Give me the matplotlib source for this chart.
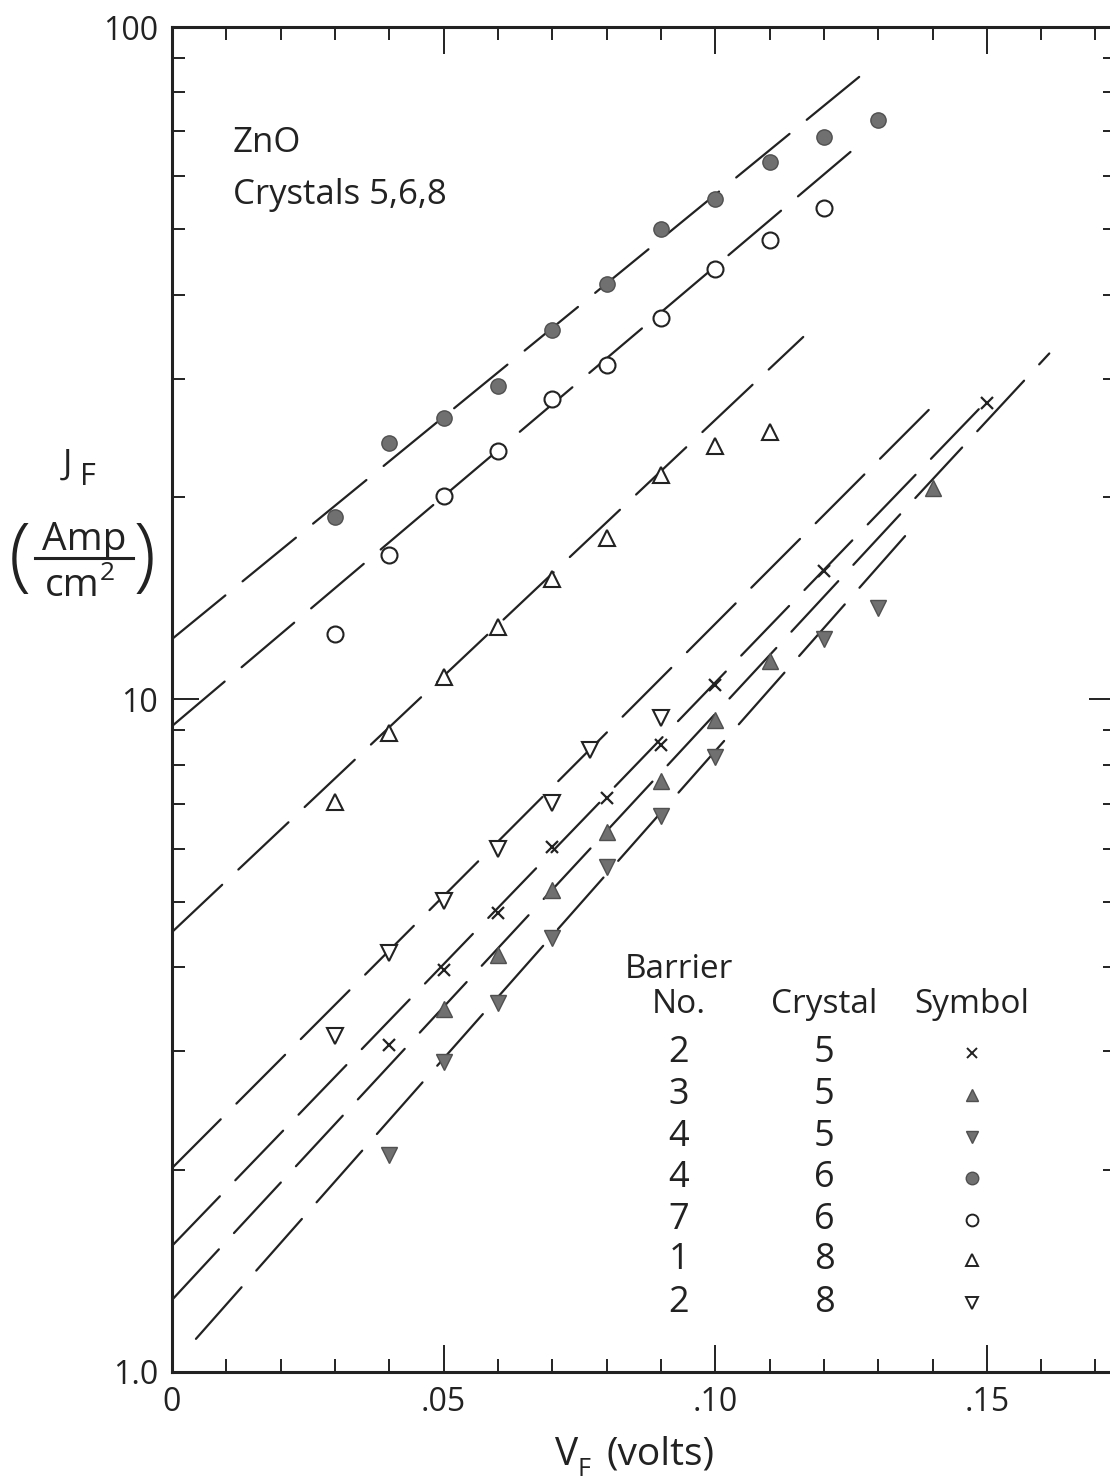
import matplotlib.pyplot as plt
from matplotlib.lines import Line2D
from matplotlib.ticker import FixedLocator, NullFormatter

plt.rcParams['font.family'] = ['Open Sans', 'DejaVu Sans']

# forward voltage V_F (volts) and current density J_F (Amp/cm^2)
v_b2c5 = [0.04, 0.05, 0.06, 0.07, 0.08, 0.09, 0.10, 0.12, 0.15]
j_b2c5 = [3.06, 3.96, 4.81, 6.03, 7.14, 8.56, 10.5, 15.5, 27.6]

v_b3c5 = [0.05, 0.06, 0.07, 0.08, 0.09, 0.10, 0.11, 0.14]
j_b3c5 = [3.47, 4.17, 5.21, 6.35, 7.56, 9.32, 11.4, 20.6]

v_b4c5 = [0.04, 0.05, 0.06, 0.07, 0.08, 0.09, 0.10, 0.12, 0.13]
j_b4c5 = [2.10, 2.89, 3.54, 4.42, 5.64, 6.71, 8.21, 12.3, 13.7]

v_b4c6 = [0.03, 0.04, 0.05, 0.06, 0.07, 0.08, 0.09, 0.10, 0.11, 0.12, 0.13]
j_b4c6 = [18.7, 24.1, 26.2, 29.3, 35.4, 41.5, 50.1, 55.5, 63.0, 68.6, 72.7]

v_b7c6 = [0.03, 0.04, 0.05, 0.06, 0.07, 0.08, 0.09, 0.10, 0.11, 0.12]
j_b7c6 = [12.5, 16.4, 20.1, 23.4, 28.0, 31.4, 36.9, 43.7, 48.2, 53.8]

v_b1c8 = [0.03, 0.04, 0.05, 0.06, 0.07, 0.08, 0.09, 0.10, 0.11]
j_b1c8 = [7.04, 8.92, 10.8, 12.8, 15.1, 17.4, 21.6, 23.8, 25.0]

v_b2c8 = [0.03, 0.04, 0.05, 0.06, 0.07, 0.077, 0.09]
j_b2c8 = [3.16, 4.20, 5.02, 5.99, 7.02, 8.41, 9.39]

# dashed fit lines: start and end of each line
fit_v0 = [0.0, 0.0, 0.0044, 0.0, 0.0, 0.0, 0.0]
fit_j0 = [1.54, 1.28, 1.12, 12.3, 9.13, 4.51, 2.01]
fit_v1 = [0.150, 0.1615, 0.1355, 0.1265, 0.1249, 0.1162, 0.1398]
fit_j1 = [27.8, 32.7, 17.7, 84.3, 65.2, 34.6, 27.2]

barrier_no = ["2", "3", "4", "4", "7", "1", "2"]
crystal_no = ["5", "5", "5", "6", "6", "8", "8"]
markers = ["x", "^", "v", "o", "o", "^", "v"]
filled = [True, True, True, True, False, False, False]

v_data = [v_b2c5, v_b3c5, v_b4c5, v_b4c6, v_b7c6, v_b1c8, v_b2c8]
j_data = [j_b2c5, j_b3c5, j_b4c5, j_b4c6, j_b7c6, j_b1c8, j_b2c8]

x_ticks = [0, 0.05, 0.10, 0.15]
x_ticklabels = ["0", ".05", ".10", ".15"]
y_ticks = [1, 10, 100]
y_ticklabels = ["1.0", "10", "100"]

ink = "#222222"
gray = "#707070"

fig = plt.figure(figsize=(11.1, 14.84), dpi=100)
ax = fig.add_axes([0.155, 0.0755, 0.8505, 0.9063])
ax.set_yscale("log")
ax.set_xlim(0, 0.1738)
ax.set_ylim(1, 100)

for i in range(len(v_data)):
    ax.plot([fit_v0[i], fit_v1[i]], [fit_j0[i], fit_j1[i]], color=ink, lw=1.6,
            dashes=(31, 10), dash_capstyle="round", zorder=2)
    if markers[i] == "x":
        ax.plot(v_data[i], j_data[i], ls="none", marker="x", ms=9, mew=1.6,
                color=ink, zorder=3)
    elif filled[i]:
        ax.plot(v_data[i], j_data[i], ls="none", marker=markers[i], ms=11,
                mfc=gray, mec="#505050", mew=1.0, zorder=3)
    else:
        ax.plot(v_data[i], j_data[i], ls="none", marker=markers[i], ms=11.5,
                mfc="white", mec=ink, mew=1.5, zorder=3)

# axes frame and ticks
for s in ax.spines.values():
    s.set_linewidth(2.2)
    s.set_color(ink)
ax.xaxis.set_major_locator(FixedLocator(x_ticks))
ax.xaxis.set_minor_locator(FixedLocator([k / 100 for k in range(18)]))
ax.set_xticklabels(x_ticklabels)
ax.yaxis.set_major_locator(FixedLocator(y_ticks))
ax.yaxis.set_minor_locator(FixedLocator([m * 10 ** d for d in range(2) for m in range(2, 10)]))
ax.set_yticklabels(y_ticklabels)
ax.yaxis.set_minor_formatter(NullFormatter())
ax.tick_params(which="both", direction="in", top=True, right=True, color=ink,
               width=1.4, labelsize=23, labelcolor=ink)
ax.tick_params(which="major", length=19.5, pad=10)
ax.tick_params(which="minor", length=9.4)

# annotation text
ax.text(0.0646, 0.9138, "ZnO", transform=ax.transAxes, fontsize=25,
        color=ink, va="center", ha="left")
ax.text(0.0646, 0.8751, "Crystals 5,6,8", transform=ax.transAxes, fontsize=25,
        color=ink, va="center", ha="left")

# key table
col_x = [0.537, 0.691, 0.847]
row_y = [0.2372, 0.2059, 0.1747, 0.1442, 0.1130, 0.0833, 0.0513]
ax.text(col_x[0], 0.2989, "Barrier", transform=ax.transAxes, fontsize=24,
        color=ink, ha="center", va="center")
ax.text(col_x[0], 0.2729, "No.", transform=ax.transAxes, fontsize=24,
        color=ink, ha="center", va="center")
ax.text(col_x[1], 0.2729, "Crystal", transform=ax.transAxes, fontsize=24,
        color=ink, ha="center", va="center")
ax.text(col_x[2], 0.2729, "Symbol", transform=ax.transAxes, fontsize=24,
        color=ink, ha="center", va="center")
for i in range(len(barrier_no)):
    ax.text(col_x[0], row_y[i], barrier_no[i], transform=ax.transAxes, fontsize=26,
            color=ink, ha="center", va="center")
    ax.text(col_x[1], row_y[i], crystal_no[i], transform=ax.transAxes, fontsize=26,
            color=ink, ha="center", va="center")
    if markers[i] == "x":
        ax.plot([col_x[2]], [row_y[i]], transform=ax.transAxes, marker="x", ms=7,
                mew=1.4, color=ink, clip_on=False)
    elif filled[i]:
        ax.plot([col_x[2]], [row_y[i]], transform=ax.transAxes, marker=markers[i],
                ms=9, mfc=gray, mec="#505050", mew=1.0, clip_on=False)
    else:
        ax.plot([col_x[2]], [row_y[i]], transform=ax.transAxes, marker=markers[i],
                ms=8.5, mfc="white", mec=ink, mew=1.4, clip_on=False)

# axis labels built from pieces (pixel positions / figure size)
W, H = 1110.0, 1484.0
fig.text(578 / W, 1 - 1455 / H, "V", fontsize=28, color=ink, ha="right", va="center")
fig.text(578 / W, 1 - 1470 / H, "F", fontsize=18, color=ink, ha="left", va="center")
fig.text(606 / W, 1 - 1455 / H, "(volts)", fontsize=28, color=ink, ha="left", va="center")

fig.text(67 / W, 1 - 465 / H, "J", fontsize=25, color=ink, ha="center", va="center")
fig.text(88 / W, 1 - 477 / H, "F", fontsize=22, color=ink, ha="center", va="center")
fig.text(84 / W, 1 - 540 / H, "Amp", fontsize=28, color=ink, ha="center", va="center")
fig.add_artist(Line2D([35 / W, 133 / W], [1 - 558 / H, 1 - 558 / H], color=ink, lw=2.2))
fig.text(72 / W, 1 - 586 / H, "cm", fontsize=28, color=ink, ha="center", va="center")
fig.text(107 / W, 1 - 574 / H, "2", fontsize=19, color=ink, ha="center", va="center")
fig.text(20 / W, 1 - 560 / H, "(", fontsize=58, color=ink, ha="center", va="center",
         fontweight="light")
fig.text(145 / W, 1 - 560 / H, ")", fontsize=58, color=ink, ha="center", va="center",
         fontweight="light")

fig.savefig("out.png", dpi=100)
